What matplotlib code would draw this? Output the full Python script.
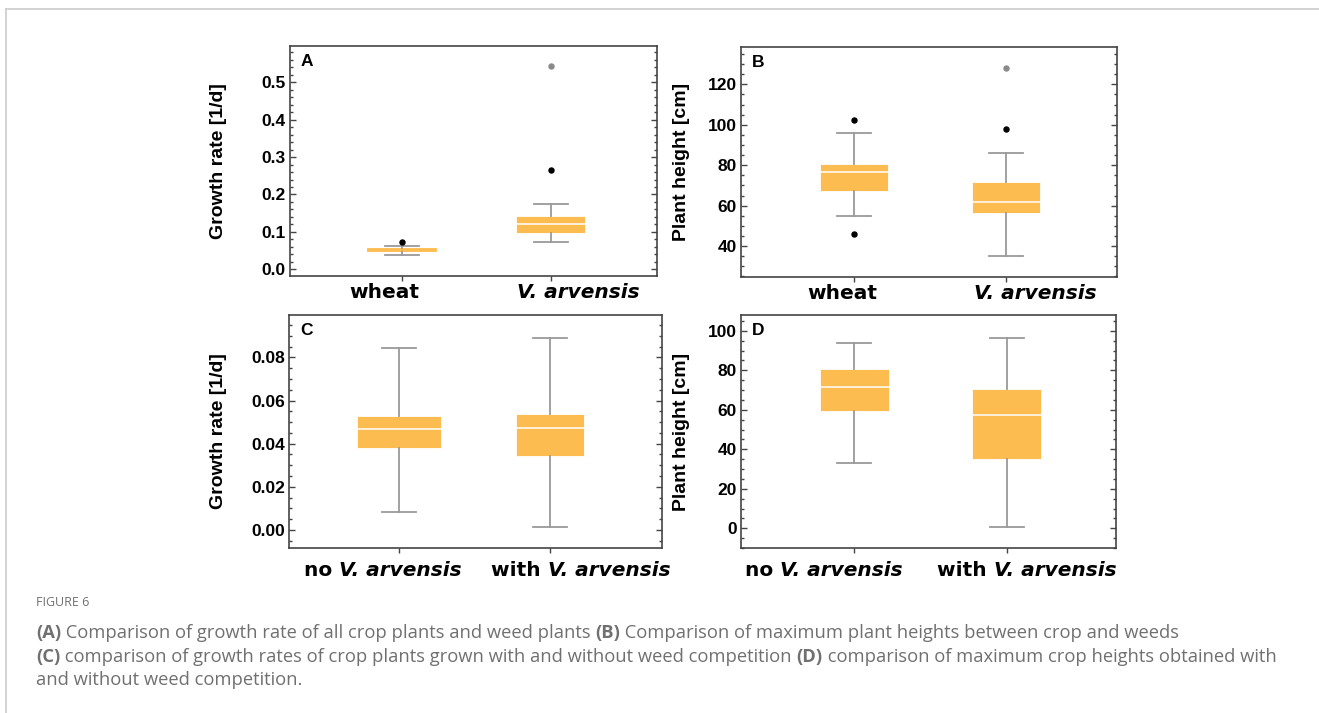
import numpy as np
import matplotlib.pyplot as plt
from matplotlib.ticker import AutoMinorLocator, MultipleLocator
from matplotlib.lines import Line2D
from matplotlib.offsetbox import TextArea, HPacker, AnnotationBbox

# ---- data ----
# panel A: growth rate, all crop plants vs weeds
a_labels = ["wheat", "V. arvensis"]
a_q1 = [0.049, 0.097]
a_med = [0.052, 0.121]
a_q3 = [0.056, 0.142]
a_lo = [0.039, 0.072]
a_hi = [0.063, 0.174]
a_out = [[0.073], [0.265]]
a_far = [[], [0.544]]

# panel B: maximum plant height, crop vs weeds
b_labels = ["wheat", "V. arvensis"]
b_q1 = [67.2, 56.2]
b_med = [76.6, 61.6]
b_q3 = [80.4, 71.8]
b_lo = [55.0, 34.9]
b_hi = [95.9, 86.3]
b_out = [[102.2, 46.1], [97.7]]
b_far = [[], [127.9]]

# panel C: crop growth rate with / without weed competition
c_labels = ["no V. arvensis", "with V. arvensis"]
c_q1 = [0.0381, 0.0344]
c_med = [0.0469, 0.0474]
c_q3 = [0.0528, 0.0539]
c_lo = [0.0082, 0.0015]
c_hi = [0.0843, 0.0889]

# panel D: crop height with / without weed competition
d_labels = ["no V. arvensis", "with V. arvensis"]
d_q1 = [59.5, 35.1]
d_med = [71.5, 57.2]
d_q3 = [80.4, 70.5]
d_lo = [32.9, 0.7]
d_hi = [93.9, 96.3]

BOX = "#fdbc50"
WHISK = "#9a9a9a"
SPINE = "#444444"

plt.rcParams['font.family'] = ['Liberation Sans', 'DejaVu Sans']

fig = plt.figure(figsize=(13.19, 7.13), dpi=100)


def make_stats(q1, med, q3, lo, hi):
	stats = []
	for i in range(len(q1)):
		stats.append(dict(q1=q1[i], med=med[i], q3=q3[i], whislo=lo[i],
			whishi=hi[i], fliers=[]))
	return stats


def xlabel_parts(lab):
	if lab.startswith("V."):
		return [(lab, "italic")]
	if lab.startswith("no ") or lab.startswith("with "):
		w, rest = lab.split(" ", 1)
		return [(w + " ", "normal"), (rest, "italic")]
	return [(lab, "normal")]


def draw_panel(rect, stats, labels, label_x, label_dy, widths, xlim, ylim, major,
		nminor, fmt, ylabel, letter, out=None, far=None):
	ax = fig.add_axes(rect)
	parts = ax.bxp(stats, positions=[1, 2], widths=widths, patch_artist=True,
		showfliers=False,
		boxprops=dict(facecolor=BOX, edgecolor="white", linewidth=0.6),
		medianprops=dict(color="white", linewidth=1.1),
		whiskerprops=dict(color=WHISK, linewidth=1.3),
		capprops=dict(color=WHISK, linewidth=1.3),
		capwidths=0.225, zorder=2)
	# very flat boxes show as a plain orange bar
	span = ylim[1] - ylim[0]
	for st, med, box in zip(stats, parts["medians"], parts["boxes"]):
		if (st["q3"] - st["q1"]) / span < 0.03:
			med.set_color(BOX)
			box.set_edgecolor(BOX)
	if out is not None:
		for i, vals in enumerate(out):
			ax.plot([i + 1] * len(vals), vals, "o", color="black", ms=3.6, zorder=3)
	if far is not None:
		for i, vals in enumerate(far):
			ax.plot([i + 1] * len(vals), vals, "o", color="#8a8a8a", ms=3.6, zorder=3)
	ax.set_xlim(*xlim)
	ax.set_ylim(*ylim)
	ax.yaxis.set_major_locator(MultipleLocator(major))
	ax.yaxis.set_minor_locator(AutoMinorLocator(nminor))
	ax.yaxis.set_major_formatter(fmt)
	ax.tick_params(axis="y", which="both", direction="in", left=True, right=True,
		color=SPINE, width=1.0)
	ax.tick_params(axis="y", which="major", length=4, labelsize=12.5, pad=3)
	ax.tick_params(axis="y", which="minor", length=2.2)
	for lab in ax.get_yticklabels():
		lab.set_fontweight("bold")
	ax.set_xticks([1, 2])
	ax.set_xticklabels([])
	ax.tick_params(axis="x", which="both", direction="out", length=3.5,
		top=False, color=SPINE, width=1.0)
	for lab, lx in zip(labels, label_x):
		boxes = [TextArea(txt, textprops=dict(fontsize=14.5, fontweight="bold",
			style=sty, family="DejaVu Sans")) for txt, sty in xlabel_parts(lab)]
		hp = HPacker(children=boxes, sep=0, pad=0, align="baseline")
		ab = AnnotationBbox(hp, (lx, 0), xycoords=("data", "axes fraction"),
			xybox=(0, label_dy), boxcoords="offset points", box_alignment=(0.5, 1),
			frameon=False, pad=0, annotation_clip=False)
		ax.add_artist(ab)
	for sp in ax.spines.values():
		sp.set_color(SPINE)
		sp.set_linewidth(1.2)
	ax.set_ylabel(ylabel, fontsize=14, fontweight="bold")
	ax.text(0.03, 0.965, letter, transform=ax.transAxes, ha="left", va="top",
		fontsize=12.5, fontweight="bold")
	return ax


W, H = 1319.0, 713.0


def rect(l, t, r, b):
	return [l / W, 1 - b / H, (r - l) / W, (b - t) / H]


axA = draw_panel(rect(290, 46, 657, 276), make_stats(a_q1, a_med, a_q3, a_lo, a_hi),
	a_labels, [0.885, 2.183], -5, [0.46, 0.46], (0.25, 2.713), (-0.018, 0.597), 0.1, 5,
	"{x:.1f}", "Growth rate [1/d]", "A", a_out, a_far)
axB = draw_panel(rect(741, 47, 1117, 277), make_stats(b_q1, b_med, b_q3, b_lo, b_hi),
	b_labels, [0.924, 2.193], -5, [0.45, 0.45], (0.255, 2.734), (24.7, 138.5), 20, 4,
	"{x:.0f}", "Plant height [cm]", "B", b_out, b_far)
axC = draw_panel(rect(289, 315, 662, 548), make_stats(c_q1, c_med, c_q3, c_lo, c_hi),
	c_labels, [0.892, 2.206], -9, [0.557, 0.456], (0.268, 2.743), (-0.0083, 0.0996),
	0.02, 4, "{x:.2f}", "Growth rate [1/d]", "C")
axD = draw_panel(rect(741, 315, 1116, 548), make_stats(d_q1, d_med, d_q3, d_lo, d_hi),
	d_labels, [0.801, 2.130], -9, [0.45, 0.45], (0.257, 2.717), (-10, 108), 20, 4,
	"{x:.0f}", "Plant height [cm]", "D")

# align y labels to the positions in the figure
axA.yaxis.set_label_coords((227 - 290) / 367.0, 0.5)
axB.yaxis.set_label_coords((690 - 741) / 376.0, 0.5)
axC.yaxis.set_label_coords((227 - 289) / 373.0, 0.5)
axD.yaxis.set_label_coords((690 - 741) / 375.0, 0.5)

# card border
fig.add_artist(Line2D([6 / W, 1.0], [1 - 9 / H, 1 - 9 / H], color="#cccccc", lw=1.2))
fig.add_artist(Line2D([6 / W, 6 / W], [0.0, 1 - 9 / H], color="#cccccc", lw=1.2))

# caption
CAP = "#707070"
fig.text(36 / W, 1 - 603 / H, "FIGURE 6", fontsize=9, color=CAP, va="center",
	family="Open Sans")

cap_lines = [
	[("(A)", "bold"), (" Comparison of growth rate of all crop plants and weed plants ", "normal"),
	 ("(B)", "bold"), (" Comparison of maximum plant heights between crop and weeds", "normal")],
	[("(C)", "bold"), (" comparison of growth rates of crop plants grown with and without weed competition ", "normal"),
	 ("(D)", "bold"), (" comparison of maximum crop heights obtained with", "normal")],
	[("and without weed competition.", "normal")],
]
cap_y = [633, 657, 680]
for parts, yy in zip(cap_lines, cap_y):
	prev = None
	for txt, wt in parts:
		if prev is None:
			prev = fig.text(36 / W, 1 - yy / H, txt, fontsize=13.2, color=CAP,
				fontweight=wt, va="center", family="Open Sans")
		else:
			prev = fig.add_artist(plt.Annotation(txt, xy=(1, 0), xycoords=prev,
				ha="left", va="bottom", fontsize=13.2, color=CAP, fontweight=wt,
				family="Open Sans"))

fig.savefig("out.png", dpi=100)
